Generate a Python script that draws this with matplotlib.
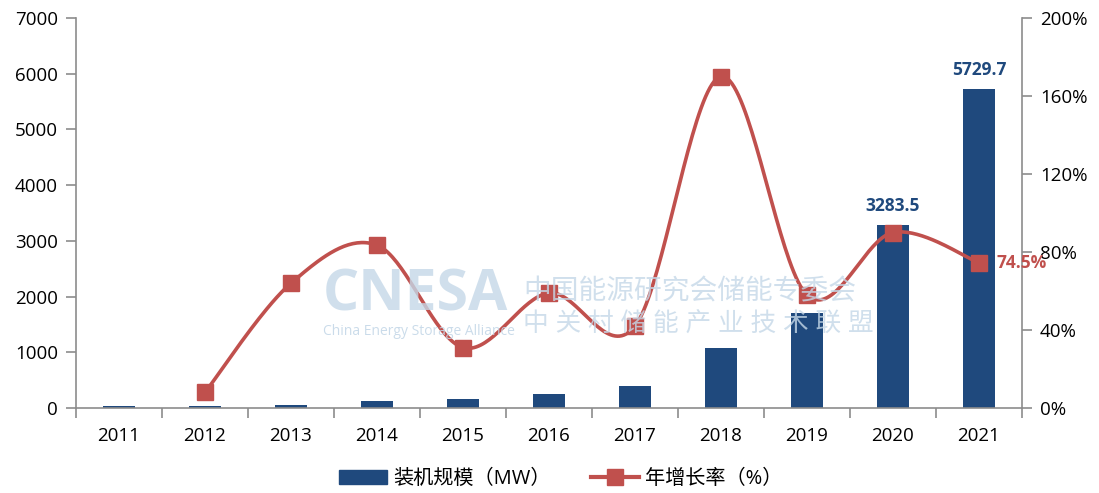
import numpy as np
import matplotlib
matplotlib.use("Agg")
import matplotlib.pyplot as plt
from matplotlib.ticker import FixedLocator, FuncFormatter
from matplotlib.lines import Line2D
from matplotlib.patches import Patch

plt.rcParams['font.family'] = ['Open Sans', 'Noto Sans CJK SC', 'DejaVu Sans']

years = ['2011', '2012', '2013', '2014', '2015', '2016', '2017', '2018', '2019', '2020', '2021']
capacity = [30, 32, 55, 125, 160, 250, 395, 1075, 1710, 3283.5, 5729.7]   # MW
growth_years = ['2012', '2013', '2014', '2015', '2016', '2017', '2018', '2019', '2020', '2021']
growth = [8, 64, 83.5, 31, 59, 42, 170, 58, 90, 74.5]   # %

bar_color = '#1f497d'
line_color = '#c0504d'
axis_color = '#8c8c8c'

fig = plt.figure(figsize=(10.99, 4.93), dpi=100)
ax = fig.add_axes([76/1099, 1-408/493, (1022-76)/1099, (408-18)/493])
ax2 = ax.twinx()

x = np.arange(len(years))
ax.bar(x, capacity, width=0.38, color=bar_color, zorder=2)
ax.set_xlim(-0.5, len(years)-0.5)
ax.set_ylim(0, 7000)
ax.set_yticks(range(0, 7001, 1000))
ax.set_xticks(x)
ax.set_xticklabels(years)
ax.xaxis.set_minor_locator(FixedLocator(np.arange(-0.5, len(years), 1)))
ax.tick_params(axis='x', which='major', length=0, pad=14, labelsize=13.5)
ax.tick_params(axis='x', which='minor', length=7, color=axis_color, width=1.2)
ax.tick_params(axis='y', length=7, color=axis_color, width=1.2, labelsize=13.5, pad=6)

for a in (ax, ax2):
    for s in a.spines.values():
        s.set_visible(False)
ax.spines['left'].set_visible(True)
ax.spines['bottom'].set_visible(True)
ax2.spines['right'].set_visible(True)
for s in (ax.spines['left'], ax.spines['bottom'], ax2.spines['right']):
    s.set_color(axis_color)
    s.set_linewidth(1.2)

ax2.set_ylim(0, 200)
ax2.set_yticks(range(0, 201, 40))
ax2.yaxis.set_major_formatter(FuncFormatter(lambda v, p: f'{int(v)}%'))
ax2.tick_params(axis='y', length=7, color=axis_color, width=1.2, labelsize=13.5, pad=6)

# smoothed line (Bezier through the points, like a spreadsheet's smoothed line)
gx = np.array([years.index(y) for y in growth_years], dtype=float)
gy = np.array(growth, dtype=float)
sx, sy = 86.0, 1.95
P = np.column_stack([gx * sx, gy * sy])
curve = []
n = len(P)
for i in range(n - 1):
    p0 = P[i - 1] if i > 0 else P[i]
    p1, p2 = P[i], P[i + 1]
    p3 = P[i + 2] if i + 2 < n else P[i + 1]
    c1 = p1 + (p2 - p0) / 6
    c2 = p2 - (p3 - p1) / 6
    t = np.linspace(0, 1, 40)[:, None]
    seg = (1-t)**3*p1 + 3*(1-t)**2*t*c1 + 3*(1-t)*t**2*c2 + t**3*p2
    curve.append(seg if i == 0 else seg[1:])
curve = np.vstack(curve)
ax2.plot(curve[:, 0] / sx, curve[:, 1] / sy, color=line_color, lw=2.6, zorder=3,
         solid_capstyle='round')
ax2.plot(gx, gy, ls='none', marker='s', ms=11, color=line_color, zorder=4)

# data labels
ax.text(9, capacity[9] + 180, '3283.5', ha='center', va='bottom', color=bar_color,
        fontsize=12.5, fontweight='bold')
ax.text(10, capacity[10] + 180, '5729.7', ha='center', va='bottom', color=bar_color,
        fontsize=12.5, fontweight='bold')
ax2.text(10.2, growth[-1], '74.5%', ha='left', va='center', color=line_color,
         fontsize=12.5, fontweight='bold')

# watermark
wm = '#c5d8e8'
fig.text(0.294, 0.37, 'CNESA', fontsize=41, fontweight='bold', color=wm, alpha=0.8,
         family=['Open Sans'], zorder=10)
fig.text(0.294, 0.32, 'China Energy Storage Alliance', fontsize=10, color=wm, alpha=0.9,
         zorder=10)
fig.text(0.476, 0.393, '中国能源研究会储能专委会', fontsize=20, color=wm, alpha=0.8, zorder=10)
fig.text(0.476, 0.328, '中 关 村 储 能 产 业 技 术 联 盟', fontsize=18.5, color=wm, alpha=0.8,
         zorder=10)

handles = [Patch(color=bar_color, label='装机规模（MW）'),
           Line2D([0], [0], color=line_color, lw=3, marker='s', ms=11, label='年增长率（%）')]
fig.legend(handles=handles, loc='center', bbox_to_anchor=(0.51, 0.028), ncol=2, frameon=False,
           fontsize=14.5, handlelength=2.4, handletextpad=0.3, columnspacing=2.0)

fig.savefig('out.png', dpi=100)
